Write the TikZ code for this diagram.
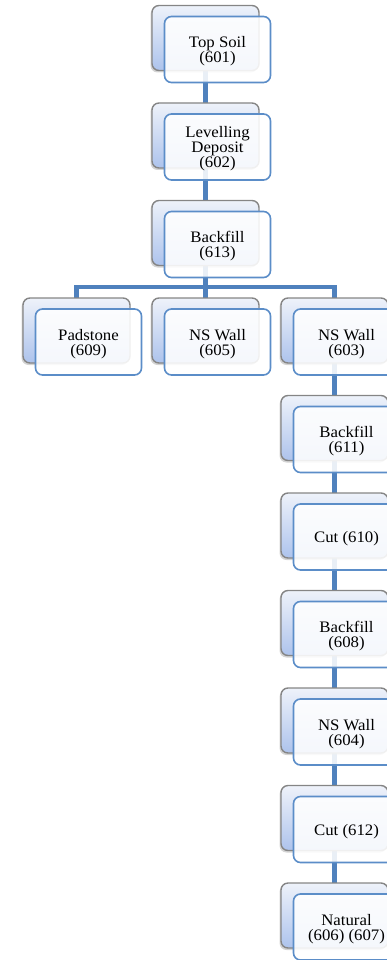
\documentclass[tikz,border=0pt]{standalone}
\usepackage{fontspec}
\setmainfont[FakeStretch=1.05]{Liberation Serif}
\usetikzlibrary{shadows,calc,backgrounds}
\definecolor{conn}{HTML}{4F81BD}
\definecolor{backtop}{HTML}{EEF2FA}
\definecolor{backbot}{HTML}{ADC3EC}
\definecolor{backdraw}{HTML}{858585}
\definecolor{frontdraw}{HTML}{5B8DC8}
\tikzset{
  backbox/.style={rectangle, rounded corners=7pt, draw=backdraw, line width=1.4pt,
    top color=backtop, bottom color=backbot, minimum width=107pt, minimum height=65pt,
    inner sep=0pt, drop shadow={shadow xshift=-1.5pt, shadow yshift=-2pt, opacity=0.35}},
  frontbox/.style={rectangle, rounded corners=7pt, draw=frontdraw, line width=1.6pt,
    fill=white, fill opacity=0.88, minimum width=106pt, minimum height=66pt,
    inner sep=0pt},
  itemtext/.style={inner sep=0pt, align=center, font=\fontsize{16pt}{15pt}\selectfont, text=black},
  connline/.style={draw=conn, line width=4.5pt},
}
\newcommand{\orgitem}[3]{%
  \node[backbox] (#1b) at (#2) {};
  \node[frontbox] (#1) at ($(#2)+(12,11.5)$) {};
  \node[itemtext] (#1t) at ($(#1.center)+(0,2)$) {#3};
}
\begin{document}
\begin{tikzpicture}[x=1pt,y=-1pt]
\useasboundingbox (0,0) rectangle (387,960);
\orgitem{a1}{205.5,38}{Top Soil\\(601)}
\orgitem{a2}{205.5,135.5}{Levelling\\Deposit\\(602)}
\orgitem{a3}{205.5,233}{Backfill\\(613)}
\orgitem{c1}{76.5,330.5}{Padstone\\(609)}
\orgitem{c2}{205.5,330.5}{NS Wall\\(605)}
\orgitem{d1}{334.5,330.5}{NS Wall\\(603)}
\orgitem{d2}{334.5,428}{Backfill\\(611)}
\orgitem{d3}{334.5,525.5}{Cut (610)}
\orgitem{d4}{334.5,623}{Backfill\\(608)}
\orgitem{d5}{334.5,720.5}{NS Wall\\(604)}
\orgitem{d6}{334.5,818}{Cut (612)}
\orgitem{d7}{334.5,915.5}{Natural\\(606) (607)}
\begin{scope}[on background layer]
\draw[connline] (a1b.center) -- (a2b.center);
\draw[connline] (a2b.center) -- (a3b.center);
\draw[connline] (a3b.center) -- ++(0,54) coordinate (bar);
\draw[connline, line cap=rect] (bar -| c1b.north) -- (bar -| d1b.north);
\draw[connline] (bar -| c1b.north) -- (c1b.center);
\draw[connline] (bar -| c2b.north) -- (c2b.center);
\draw[connline] (bar -| d1b.north) -- (d1b.center);
\foreach \i/\j in {1/2,2/3,3/4,4/5,5/6,6/7} {
  \draw[connline] (d\i b.center) -- (d\j b.center);
}
\end{scope}
\end{tikzpicture}
\end{document}
